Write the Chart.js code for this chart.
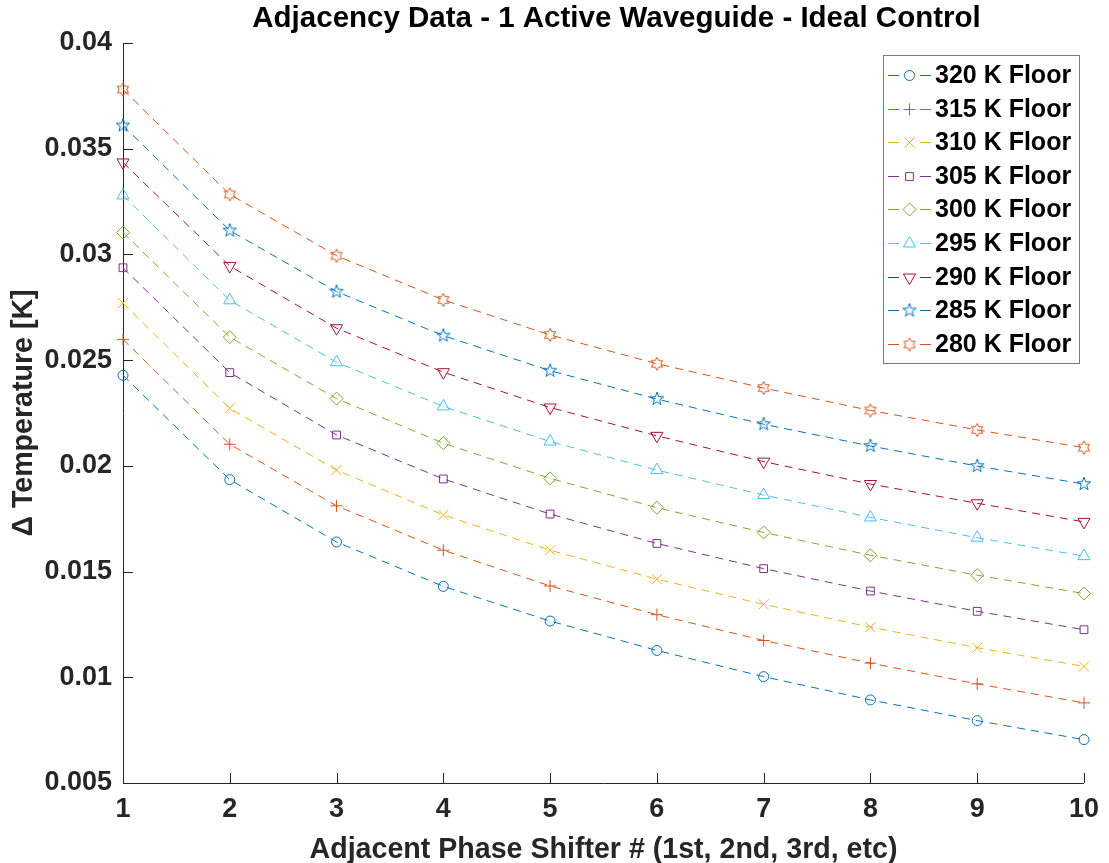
<!DOCTYPE html>
<html>
<head>
<meta charset="utf-8">
<title>Adjacency Data - 1 Active Waveguide - Ideal Control</title>
<script src="https://cdn.jsdelivr.net/npm/chart.js@4.4.1/dist/chart.umd.min.js"></script>
<style>
  html, body { margin: 0; padding: 0; background: #fff; }
  canvas { display: block; }
</style>
</head>
<body>
<canvas id="chart" width="1109" height="863"></canvas>
<script>
// ─── DATA ─────────────────────────────────────────────────
const shifters = [1, 2, 3, 4, 5, 6, 7, 8, 9, 10]
const xTicks = [1, 2, 3, 4, 5, 6, 7, 8, 9, 10]
const yTicks = [0.005, 0.01, 0.015, 0.02, 0.025, 0.03, 0.035, 0.04]
const seriesNames = ['320 K Floor', '315 K Floor', '310 K Floor', '305 K Floor', '300 K Floor',
                     '295 K Floor', '290 K Floor', '285 K Floor', '280 K Floor']

const floor320 = [0.02428, 0.01935, 0.01640, 0.01430, 0.01266, 0.01127, 0.01003, 0.00893, 0.00795, 0.00705]
const floor315 = [0.02598, 0.02102, 0.01811, 0.01601, 0.01432, 0.01296, 0.01174, 0.01067, 0.00969, 0.00879]
const floor310 = [0.02770, 0.02272, 0.01980, 0.01768, 0.01601, 0.01464, 0.01345, 0.01237, 0.01140, 0.01051]
const floor305 = [0.02937, 0.02441, 0.02146, 0.01938, 0.01772, 0.01633, 0.01514, 0.01408, 0.01312, 0.01225]
const floor300 = [0.03104, 0.02609, 0.02318, 0.02107, 0.01941, 0.01802, 0.01685, 0.01577, 0.01483, 0.01396]
const floor295 = [0.03279, 0.02783, 0.02490, 0.02281, 0.02115, 0.01980, 0.01862, 0.01756, 0.01660, 0.01573]
const floor290 = [0.03435, 0.02945, 0.02651, 0.02443, 0.02276, 0.02142, 0.02020, 0.01914, 0.01823, 0.01735]
const floor285 = [0.03610, 0.03113, 0.02824, 0.02616, 0.02450, 0.02316, 0.02197, 0.02094, 0.01999, 0.01914]
const floor280 = [0.03780, 0.03284, 0.02994, 0.02785, 0.02619, 0.02483, 0.02368, 0.02262, 0.02170, 0.02086]

const seriesValues = [floor320, floor315, floor310, floor305, floor300, floor295, floor290, floor285, floor280]

const chartTitle = 'Adjacency Data - 1 Active Waveguide - Ideal Control'

// ─── STYLE ────────────────────────────────────────────────
const FONT = "'Liberation Sans', Arial, Helvetica, sans-serif"
const AXIS_COLOR = '#262626'
const colors = ['#0072BD', '#D95319', '#EDB120', '#7E2F8E', '#77AC30', '#4DBEEE', '#A2142F', '#0072BD', '#D95319']

function starCanvas(color, points, outer, inner) {
    const c = document.createElement('canvas')
    c.width = 16
    c.height = 16
    const g = c.getContext('2d')
    g.strokeStyle = color
    g.lineWidth = 1
    g.beginPath()
    for (let i = 0; i < points * 2; i++) {
        const r = i % 2 === 0 ? outer : inner
        const a = -Math.PI / 2 + i * Math.PI / points
        const px = 8 + r * Math.cos(a)
        const py = 8 + r * Math.sin(a)
        if (i === 0) g.moveTo(px, py)
        else g.lineTo(px, py)
    }
    g.closePath()
    g.stroke()
    return c
}

const markers = [
    { style: 'circle', radius: 5, rotation: 0 },
    { style: 'cross', radius: 6, rotation: 0 },
    { style: 'crossRot', radius: 7, rotation: 0 },
    { style: 'rect', radius: 5.5, rotation: 0 },
    { style: 'rectRot', radius: 6.5, rotation: 0 },
    { style: 'triangle', radius: 7, rotation: 0 },
    { style: 'triangle', radius: 7, rotation: 180 },
    { style: starCanvas(colors[7], 5, 7, 2.8), radius: 6, rotation: 0 },
    { style: starCanvas(colors[8], 6, 6.5, 3.7), radius: 6, rotation: 0 }
]

// ─── PLUGINS ──────────────────────────────────────────────
// titulo centrado como en MATLAB (un poco a la derecha del centro del área)
const matlabTitle = {
    id: 'matlabTitle',
    afterDraw(chart) {
        const { ctx, chartArea: a } = chart
        ctx.save()
        ctx.fillStyle = '#000'
        ctx.font = `bold 29.5px ${FONT}`
        ctx.textAlign = 'center'
        ctx.textBaseline = 'middle'
        ctx.fillText(chartTitle, (a.left + a.right) / 2 + 13, 19)
        ctx.restore()
    }
}

const inwardTicks = {
    id: 'inwardTicks',
    afterDraw(chart) {
        const { ctx, chartArea: a, scales: { x, y } } = chart
        ctx.save()
        ctx.strokeStyle = AXIS_COLOR
        ctx.lineWidth = 1
        ctx.beginPath()
        x.ticks.forEach(t => {
            const px = Math.round(x.getPixelForValue(t.value)) + 0.5
            ctx.moveTo(px, a.bottom)
            ctx.lineTo(px, a.bottom - 10)
        })
        y.ticks.forEach(t => {
            const py = Math.round(y.getPixelForValue(t.value)) + 0.5
            ctx.moveTo(a.left, py)
            ctx.lineTo(a.left + 10, py)
        })
        ctx.stroke()
        ctx.restore()
    }
}

const matlabLegend = {
    id: 'matlabLegend',
    afterDraw(chart) {
        const ctx = chart.ctx
        const box = { x: 883.5, y: 55.5, w: 196, h: 308 }
        ctx.save()
        ctx.setLineDash([])
        ctx.fillStyle = '#fff'
        ctx.fillRect(box.x, box.y, box.w, box.h)
        ctx.strokeStyle = '#7a7a7a'
        ctx.lineWidth = 1
        ctx.strokeRect(box.x, box.y, box.w, box.h)

        chart.data.datasets.forEach((ds, i) => {
            const yy = Math.round(75 + i * 33.6) + 0.5
            ctx.strokeStyle = ds.borderColor
            ctx.lineWidth = 1
            ctx.beginPath()
            ctx.moveTo(888, yy)
            ctx.lineTo(899, yy)
            ctx.moveTo(920, yy)
            ctx.lineTo(931, yy)
            ctx.stroke()

            ctx.strokeStyle = ds.pointBorderColor
            ctx.fillStyle = 'rgba(0,0,0,0)'
            Chart.helpers.drawPoint(ctx, {
                pointStyle: ds.pointStyle,
                rotation: ds.pointRotation,
                radius: ds.pointRadius,
                borderWidth: 1
            }, 909.5, yy)

            ctx.fillStyle = '#000'
            ctx.font = `bold 25px ${FONT}`
            ctx.textBaseline = 'middle'
            ctx.textAlign = 'left'
            ctx.fillText(ds.label, 935, yy + 1)
        })
        ctx.restore()
    }
}

// ─── CHART ────────────────────────────────────────────────
const datasets = seriesNames.map((name, i) => ({
    label: name,
    data: shifters.map((x, j) => ({ x, y: seriesValues[i][j] })),
    borderColor: colors[i],
    borderWidth: 1,
    borderDash: [8, 6],
    tension: 0,
    fill: false,
    clip: false,
    pointStyle: markers[i].style,
    pointRadius: markers[i].radius,
    pointRotation: markers[i].rotation,
    pointBorderColor: colors[i],
    pointBackgroundColor: 'rgba(0,0,0,0)',
    pointBorderWidth: 1
}))

new Chart(document.getElementById('chart'), {
    type: 'line',
    data: { datasets },
    options: {
        responsive: false,
        animation: false,
        devicePixelRatio: 1,
        layout: { padding: { left: 0, right: 19, top: 43, bottom: 0 } },
        plugins: {
            legend: { display: false },
            tooltip: { enabled: false },
            title: { display: false }
        },
        scales: {
            x: {
                type: 'linear',
                min: 1,
                max: 10,
                afterBuildTicks: s => { s.ticks = xTicks.map(v => ({ value: v })) },
                afterFit: s => { s.height = 80 },
                grid: { drawOnChartArea: false, drawTicks: false },
                border: { display: true, color: AXIS_COLOR, width: 1 },
                ticks: {
                    color: AXIS_COLOR,
                    padding: 10,
                    maxRotation: 0,
                    font: { family: FONT, size: 27, weight: 'bold' },
                    callback: v => String(v)
                },
                title: {
                    display: true,
                    text: 'Adjacent Phase Shifter # (1st, 2nd, 3rd, etc)',
                    color: AXIS_COLOR,
                    font: { family: FONT, size: 28.6, weight: 'bold', lineHeight: 0.9 },
                    padding: { top: 0, bottom: 0 }
                }
            },
            y: {
                type: 'linear',
                min: 0.005,
                max: 0.04,
                afterBuildTicks: s => { s.ticks = yTicks.map(v => ({ value: v })) },
                afterFit: s => { s.width = 123 },
                grid: { drawOnChartArea: false, drawTicks: false },
                border: { display: true, color: AXIS_COLOR, width: 1 },
                ticks: {
                    color: AXIS_COLOR,
                    padding: 11,
                    font: { family: FONT, size: 27, weight: 'bold' },
                    callback: v => String(+v.toFixed(3))
                },
                title: {
                    display: true,
                    text: 'Δ Temperature [K]',
                    color: AXIS_COLOR,
                    font: { family: FONT, size: 28.6, weight: 'bold', lineHeight: 0.9 },
                    padding: { top: 11, bottom: 0 }
                }
            }
        }
    },
    plugins: [inwardTicks, matlabLegend, matlabTitle]
})
</script>
</body>
</html>
